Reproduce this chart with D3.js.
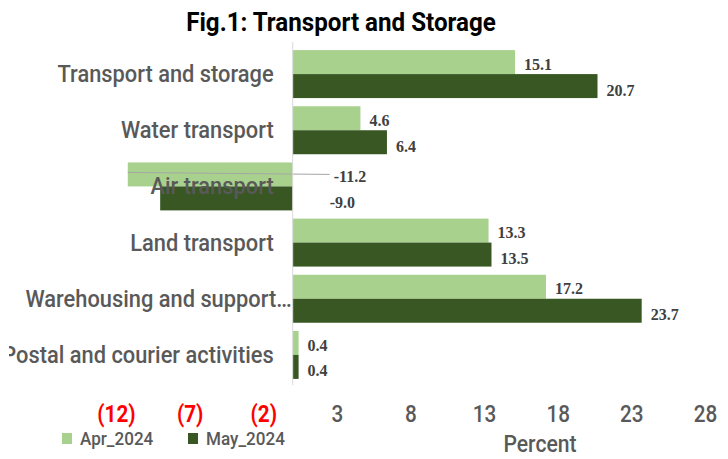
<!DOCTYPE html>
<html>
<head>
<meta charset="utf-8">
<script src="https://cdnjs.cloudflare.com/ajax/libs/d3/7.8.5/d3.min.js"></script>
<style>
  body { margin: 0; background: #fff; }
  svg { display: block; font-family: Roboto, "Noto Sans", sans-serif; }
</style>
</head>
<body>
<div class="chart"></div>
<script>
// chart data
var categories = ["Transport and storage", "Water transport", "Air transport",
                  "Land transport", "Warehousing and support\u2026", "Postal and courier activities"];
var seriesNames = ["Apr_2024", "May_2024"];
var apr2024 = [15.1, 4.6, -11.2, 13.3, 17.2, 0.4];
var may2024 = [20.7, 6.4, -9.0, 13.5, 23.7, 0.4];
var xTicks = [-12, -7, -2, 3, 8, 13, 18, 23, 28];

var colors = ["#a9d18e", "#385723"];
var grey = "#595959";

var W = 728, H = 459;
var margin = {top: 46, right: 23, bottom: 76, left: 116};

var svg = d3.select(".chart").append("svg")
    .attr("width", W)
    .attr("height", H);

// the original font is narrow and tall, so squeeze text horizontally
function squeeze(sel, sx) {
    sel.each(function() {
        var t = d3.select(this),
            x0 = +t.attr("x") || 0,
            y0 = +t.attr("y") || 0;
        t.attr("transform", "translate(" + x0 + "," + y0 + ") scale(" + sx + ",1) translate(" + (-x0) + "," + (-y0) + ")");
    });
}

// scales
var x = d3.scaleLinear().domain([-12, 28]).range([margin.left, W - margin.right]);
var y = d3.scaleBand().domain(categories)
    .range([margin.top, H - margin.bottom])
    .paddingInner(0.146).paddingOuter(0.073);
var ySub = d3.scaleBand().domain(seriesNames).range([0, y.bandwidth()]);

var rows = categories.map(function(c, i) {
    return {cat: c, vals: [apr2024[i], may2024[i]]};
});

// left edge clip for the category labels
svg.append("clipPath").attr("id", "labelClip")
    .append("rect").attr("x", 9).attr("y", 0).attr("width", W).attr("height", H);

// title
svg.append("text")
    .attr("x", 341).attr("y", 31)
    .attr("text-anchor", "middle")
    .attr("font-size", 26).attr("font-weight", "bold")
    .attr("fill", "#000")
    .text("Fig.1: Transport and Storage")
    .call(squeeze, 0.93);

// bars
var groups = svg.selectAll(".row").data(rows).enter().append("g")
    .attr("class", "row")
    .attr("transform", function(d) { return "translate(0," + y(d.cat) + ")"; });

groups.selectAll("rect").data(function(d) {
        return d.vals.map(function(v, j) { return {v: v, s: seriesNames[j], j: j}; });
    })
    .enter().append("rect")
    .attr("x", function(d) { return x(Math.min(0, d.v)); })
    .attr("width", function(d) { return Math.abs(x(d.v) - x(0)); })
    .attr("y", function(d) { return ySub(d.s); })
    .attr("height", ySub.bandwidth())
    .attr("fill", function(d) { return colors[d.j]; });

// zero axis line
svg.append("line")
    .attr("x1", x(0)).attr("x2", x(0))
    .attr("y1", margin.top - 4).attr("y2", H - margin.bottom + 2)
    .attr("stroke", "#d9d9d9").attr("stroke-width", 1);

// category labels
svg.append("g").attr("clip-path", "url(#labelClip)")
  .selectAll(".cat").data(rows).enter().append("text")
    .attr("class", "cat")
    .attr("x", function(d, i) { return i === 4 ? x(0) - 1 : x(0) - 19; })
    .attr("y", function(d) { return y(d.cat) + y.bandwidth() / 2; })
    .attr("dy", "0.35em")
    .attr("text-anchor", "end")
    .attr("font-size", 23)
    .attr("font-weight", 500)
    .attr("fill", grey)
    .text(function(d) { return d.cat; })
    .call(squeeze, 0.95);

// value labels
groups.each(function(d) {
    var g = d3.select(this);
    d.vals.forEach(function(v, j) {
        var yy = ySub(seriesNames[j]) + ySub.bandwidth() / 2 + (j === 0 ? 2 : 4);
        var lx = v >= 0 ? x(v) + 9 : x(0) + (j === 0 ? 41 : 37);
        if (v < 0 && j === 0) {
            // leader line from bar end to label
            g.append("line")
                .attr("x1", x(v)).attr("x2", lx - 4)
                .attr("y1", yy - 4).attr("y2", yy - 2)
                .attr("stroke", "#a6a6a6").attr("stroke-width", 1);
        }
        g.append("text")
            .attr("x", lx).attr("y", yy)
            .attr("dy", "0.35em")
            .attr("font-family", "'Liberation Serif', 'Times New Roman', serif")
            .attr("font-weight", "bold")
            .attr("font-size", 16)
            .attr("fill", "#404040")
            .text(v.toFixed(1));
    });
});

// x axis (labels only)
var xAxis = d3.axisBottom(x)
    .tickValues(xTicks)
    .tickSize(0)
    .tickFormat(function(v) { return v < 0 ? "(" + (-v) + ")" : v; });

var gx = svg.append("g")
    .attr("transform", "translate(0," + 403 + ")")
    .call(xAxis);
gx.select(".domain").remove();
gx.selectAll("text")
    .attr("font-family", "Roboto, sans-serif")
    .attr("font-size", 23)
    .attr("font-weight", function(v) { return v < 0 ? "bold" : 500; })
    .attr("fill", function(v) { return v < 0 ? "#ff0000" : grey; })
    .call(squeeze, 0.9);

// x axis title
svg.append("text")
    .attr("x", 540).attr("y", 452)
    .attr("text-anchor", "middle")
    .attr("font-size", 23)
    .attr("font-weight", 500)
    .attr("fill", grey)
    .text("Percent")
    .call(squeeze, 0.92);

// legend
var legend = svg.selectAll(".legend").data(seriesNames).enter().append("g")
    .attr("class", "legend")
    .attr("transform", function(d, i) { return "translate(" + (62 + i * 126) + ",433)"; });
legend.append("rect")
    .attr("width", 10).attr("height", 11)
    .attr("fill", function(d, i) { return colors[i]; });
legend.append("text")
    .attr("x", 18).attr("y", 6)
    .attr("dy", "0.35em")
    .attr("font-size", 18)
    .attr("font-weight", 500)
    .attr("fill", grey)
    .text(function(d) { return d; })
    .call(squeeze, 0.95);
</script>
</body>
</html>
